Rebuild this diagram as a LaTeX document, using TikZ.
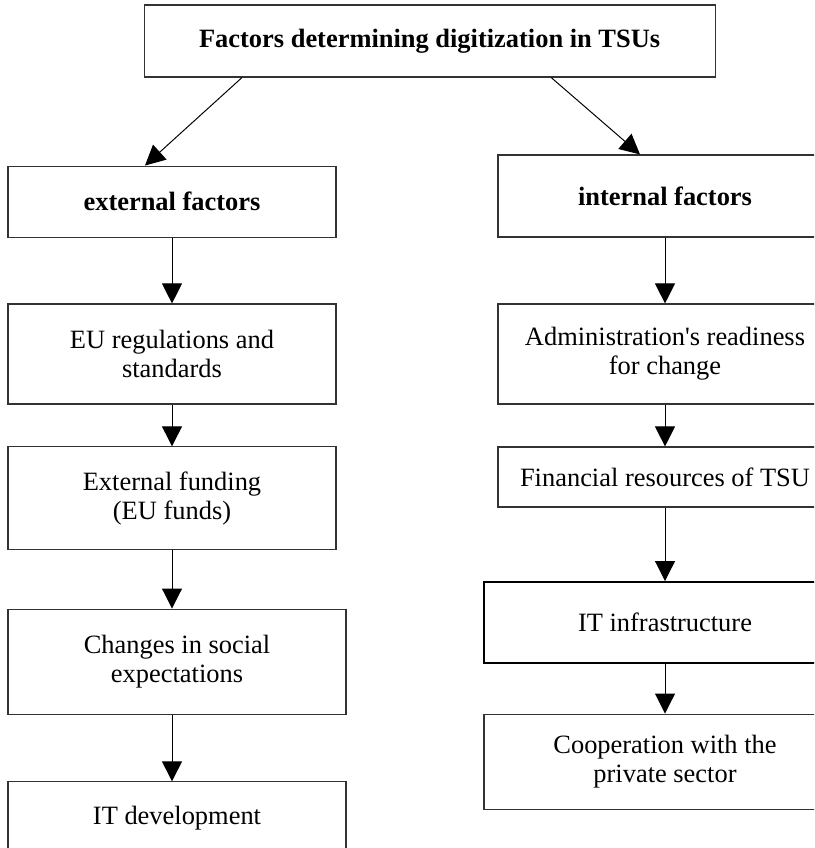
\documentclass[tikz,border=0pt]{standalone}
\usepackage{fontspec}
\setmainfont{Liberation Serif}[Ligatures=TeXOff]
\usetikzlibrary{arrows.meta}

\begin{document}
\begin{tikzpicture}[
    box/.style={draw=black!80, line width=0.8pt, align=center, inner sep=0pt,
                font=\fontsize{18.8}{20.6}\selectfont},
    link/.style={-{Triangle[width=0.5cm, length=0.5cm]}, line width=0.7pt}
]

% ===== Layout parameters =====
\def\xLeft{4.3}       % x-coordinate external column
\def\xRight{16.625}   % x-coordinate internal column
\def\wLeft{8.2}       % width of external boxes
\def\wRight{8.35}     % width of internal boxes

\useasboundingbox (0,0) rectangle (20.35,-21.2);
\clip (0,0) rectangle (20.35,-21.2);

% ===== Title =====
\node[box, minimum width=14.275cm, minimum height=1.8cm] (fact) at (10.74,-1.025)
    {\textbf{Factors determining digitization in TSUs}};

% ===== External factors column =====
\node[box, minimum width=\wLeft cm, minimum height=1.775cm] (ext) at (\xLeft,-5.04) {\textbf{external factors}};
\node[box, minimum width=\wLeft cm, minimum height=2.5cm] (reg) at (\xLeft,-8.85) {EU regulations and\\standards};
\node[box, minimum width=\wLeft cm, minimum height=2.575cm] (fund) at (\xLeft,-12.46) {External funding\\(EU funds)};
\node[box, minimum width=8.45cm, minimum height=2.625cm] (soc) at (4.425,-16.54) {Changes in social\\expectations};
\node[box, minimum width=8.45cm, minimum height=1.825cm] (itd) at (4.425,-20.46) {IT development};

% ===== Internal factors column =====
\node[box, minimum width=\wRight cm, minimum height=2.05cm] (int) at (\xRight,-4.9) {\textbf{internal factors}};
\node[box, minimum width=\wRight cm, minimum height=2.5cm] (adm) at (\xRight,-8.85) {Administration's readiness\\for change};
\node[box, minimum width=\wRight cm, minimum height=1.5cm] (fin) at (\xRight,-11.925) {Financial resources of TSU};
\node[box, draw=black, line width=1.2pt, minimum width=9.05cm, minimum height=2.025cm] (inf) at (\xRight,-15.56) {IT infrastructure};
\node[box, minimum width=9.05cm, minimum height=2.375cm] (coop) at (\xRight,-19.04) {Cooperation with the\\private sector};

% ===== Connections =====
\draw[link] ([xshift=-4.69cm]fact.south) -- ([xshift=-0.675cm]ext.north);
\draw[link] ([xshift=3.04cm]fact.south) -- ([xshift=-0.625cm]int.north);

\draw[link] (ext.south -| ext) -- (reg.north -| ext);
\draw[link] (reg.south -| ext) -- (fund.north -| ext);
\draw[link] (fund.south -| ext) -- (soc.north -| ext);
\draw[link] (soc.south -| ext) -- (itd.north -| ext);

\draw[link] (int.south) -- (adm.north);
\draw[link] (adm.south) -- (fin.north);
\draw[link] (fin.south) -- (inf.north);
\draw[link] (inf.south) -- (coop.north);

\end{tikzpicture}
\end{document}
